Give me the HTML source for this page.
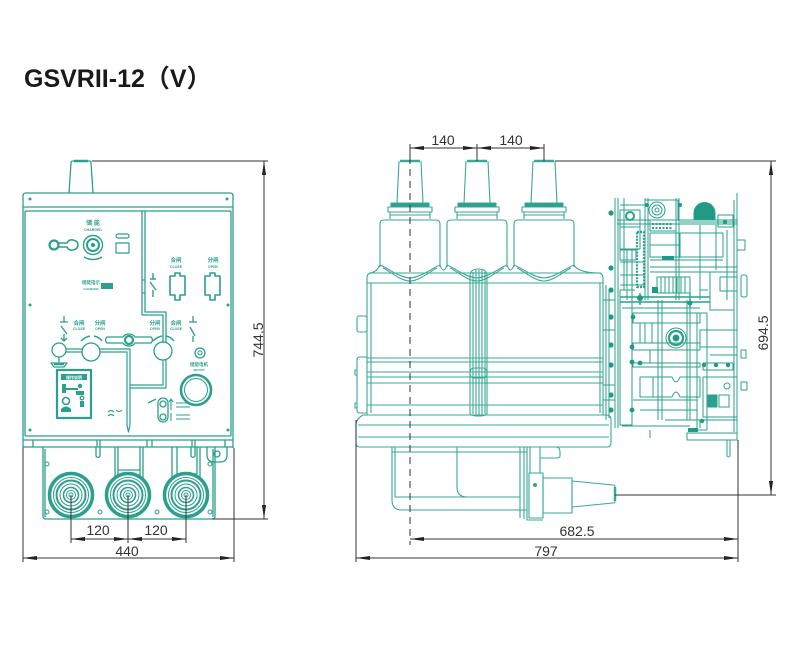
<!DOCTYPE html>
<html><head><meta charset="utf-8"><style>
html,body{margin:0;padding:0;background:#fff;}
svg{display:block;}
</style></head><body>
<svg width="800" height="650" viewBox="0 0 800 650" xmlns="http://www.w3.org/2000/svg" font-family="'Liberation Sans', 'Noto Sans CJK SC', sans-serif">
<rect width="800" height="650" fill="#fff"/>
<text x="24" y="87" font-size="25" font-weight="bold" fill="#1a1a1a" font-family="'Liberation Sans', 'Noto Sans CJK SC', sans-serif">GSVRII-12（V）</text>

<defs>
<g id="bsh">
<path d="M-11,161 L-13,203 M11,161 L13,203"/>
<line x1="-10" y1="161" x2="10" y2="161" stroke-width="2.5"/>
<rect x="-19" y="203" width="38" height="4" fill="#2ba08c"/>
<rect x="-22" y="207" width="44" height="5"/>
<rect x="-20" y="212" width="40" height="3"/>
<path d="M-20,215 L-20,219 M20,215 L20,219 M-14,203 L14,203"/>
<path d="M-30,267 L-30,224 Q-30,220 -26,220 L26,220 Q30,220 30,224 L30,267"/>
<path d="M-30,265 C-22,268 -12,277 0,278 C12,277 22,268 30,265"/>
<path d="M-27,268 C-20,271 -10,281 0,281 C10,281 20,271 27,268"/>
</g>
</defs>

<!-- ============ FRONT VIEW ============ -->
<g fill="none" stroke="#2ba08c" stroke-width="1.3" stroke-linejoin="round">
<path d="M69,193 L71,163 Q71,161 73,161 L89,161 Q91,161 91,163 L93,193"/>
<line x1="74" y1="161" x2="88" y2="161" stroke-width="2.5"/>
<path d="M23,448 L23,196 Q23,193 26,193 L230,193 Q233,193 233,196 L233,448"/>
<line x1="23" y1="207" x2="233" y2="207"/>
<line x1="25" y1="211" x2="231" y2="211"/>
<line x1="25" y1="211" x2="25" y2="436"/>
<line x1="231" y1="211" x2="231" y2="436"/>
<line x1="25" y1="436" x2="231" y2="436"/>
<line x1="23" y1="440" x2="233" y2="440"/>
<line x1="23" y1="447" x2="233" y2="447"/>
<path d="M33,440 V447 M97,440 V447 M100,440 V447 M147,440 V447 M152,440 V447 M192,440 V447 M195,440 V447 M225,440 V447"/>
<path d="M142,211 L142,315 L163,315 L163,343"/>
<path d="M145,211 L145,312 L166,312 L166,343"/>
<path d="M142,280 h3 M142,293 h3"/>
<g fill="#2ba08c" stroke="none">
<circle cx="30" cy="199" r="1.5"/><circle cx="227" cy="199" r="1.5"/>
<circle cx="30" cy="305" r="1.5"/><circle cx="228" cy="305" r="1.5"/>
<circle cx="30" cy="430" r="1.5"/><circle cx="228" cy="430" r="1.5"/>
</g>
<circle cx="54" cy="245" r="4.5" stroke-width="2.2"/>
<path d="M58.5,243 L67,243 Q69,239 73,240 Q78,241 78,245 Q78,249 73,250 Q69,251 67,247 L58.5,247" stroke-width="1.6"/>
<circle cx="93" cy="245" r="9.5" stroke-width="1.4"/>
<circle cx="93" cy="245" r="6" stroke-width="2"/>
<circle cx="93" cy="245" r="1.5" fill="#2ba08c"/>
<path d="M84,257 Q93,262 102,257" stroke-width="1.5"/>
<rect x="116" y="234" width="13" height="4" rx="2" stroke-width="1.2"/>
<rect x="116" y="243" width="13" height="10" stroke-width="1.2"/>
<rect x="101" y="283" width="12" height="6" fill="#2ba08c" stroke="none"/>
<path d="M153,273 V279 M150,279 h6 M150,282 L156,290 M153,290 V297" stroke-width="1.4"/>
<path d="M170,276 H175 V273 H180 V276 H185 V295 H180 V300 H175 V295 H170 Z" stroke-width="1.6"/>
<path d="M205,276 H210 V273 H215 V276 H220 V295 H215 V300 H210 V295 H205 Z" stroke-width="1.6"/>
<path d="M64,316 V322 M60,322 H68 M61,326 L67,334 M64,334 V340 M61,338 L64,341 L67,338" stroke-width="1.3"/>
<path d="M193,316 V322 M189,322 H197 M190,327 L195,336 M193,336 V342" stroke-width="1.3"/>
<circle cx="59" cy="350" r="7"/>
<path d="M59,357 V362 M51,363 H67 L64,367 H54 Z" stroke-width="1.3"/>
<path d="M54,364 h10" stroke-width="2.5"/>
<circle cx="91" cy="352" r="9"/>
<path d="M81,341 Q85,337 90,336 M94,336 Q99,337 102,341" stroke-width="1.5"/>
<path d="M153,341 Q157,337 162,336 M166,336 Q171,337 174,341" stroke-width="1.5"/>
<path d="M107,337 Q104,340 107,343 L123,343 Q125,346 129,346 Q133,346 135,343 L151,343 Q154,340 151,337 L135,337 Q133,334 129,334 Q125,334 123,337 Z" stroke-width="1.3"/>
<circle cx="129" cy="340" r="4" stroke-width="2.2"/>
<circle cx="163" cy="351" r="9"/>
<circle cx="200" cy="353" r="5"/>
<path d="M66,349 H82 M66,352 H82 M100,349 H130 V425 M100,352 H127 V425 M127,425 L128.5,432 L130,425" stroke-width="1.2"/>
<path d="M163,360 V385 H130 M166,360 V388 H130" stroke-width="1.2"/>
<rect x="57" y="370" width="34" height="48" stroke-width="2.2"/>
<rect x="61" y="374" width="26" height="6" fill="#2ba08c" stroke="none"/>
<g fill="#2ba08c" stroke="none">
<rect x="62" y="384" width="4" height="9"/>
<rect x="66" y="388" width="12" height="2"/>
<circle cx="80" cy="386" r="2.2"/>
<rect x="76" y="391" width="8" height="4"/>
<rect x="80" y="401" width="4" height="6"/>
<path d="M61,412 h10 v-3 q-5,-5 -10,0z"/>
</g>
<circle cx="66" cy="401" r="3.5" stroke-width="1.6"/>
<circle cx="82" cy="398" r="1.8"/>
<circle cx="196" cy="390" r="15" stroke-width="2.6"/>
<circle cx="196" cy="390" r="11.5" stroke-width="1"/>
<circle cx="200" cy="353" r="2" stroke-width="1"/>
<rect x="158" y="398" width="10" height="24" rx="5" stroke-width="1.3"/>
<circle cx="163" cy="404" r="3"/>
<circle cx="163" cy="417" r="3"/>
<path d="M171,410 V400 M169,402 L171,399 L173,402 M171,421 V413 M176,403 h14 M176,407 h14 M176,415 h14 M176,419 h14" stroke-width="1.1"/>
<path d="M148,403 L156,399" stroke-width="1.3"/>
<path d="M108,412 q3,-3 6,0 M116,410 q3,3 6,0 M108,416 q3,-3 6,0" stroke-width="1.2"/>
<path d="M43,447 L43,516 Q43,519 46,519 L212,519 Q215,519 215,516 L215,447"/>
<path d="M45,449 V517 M213,449 V517"/>
<path d="M207,447 L207,455 Q207,462 215,462 L220,462 Q227,462 227,455 L227,447"/>
<circle cx="217" cy="454" r="3"/>
<path d="M115,447 V479 M118,447 V476 M140,447 V476 M143,447 V479 M118,470 H140"/>
<path d="M172,447 V479 M177,447 V474 M197,447 V474 M200,447 V479 M177,474 H197"/>
<path d="M96,447 V456 Q98,459 100,456 V447 M191,447 V456 Q193,459 195,456 V447"/>
<g stroke-width="1">
<circle cx="47" cy="464" r="2"/><circle cx="210" cy="464" r="2"/>
<circle cx="47" cy="512" r="2"/><circle cx="100" cy="512" r="2"/>
<circle cx="157" cy="512" r="2"/><circle cx="210" cy="512" r="2"/>
</g>
<g id="rb">
<circle cx="71" cy="495" r="21.5" stroke-width="3.5"/>
<circle cx="71" cy="495" r="17.5" stroke-width="1"/>
<circle cx="71" cy="495" r="14.5" stroke-width="2"/>
<circle cx="71" cy="495" r="11" stroke-width="1"/>
<circle cx="71" cy="495" r="7.5" stroke-width="1.6"/>
<circle cx="71" cy="495" r="4.5" stroke-width="1"/>
<circle cx="71" cy="495" r="2" stroke-width="1"/>
</g>
<use href="#rb" x="57"/>
<use href="#rb" x="115"/>
</g>

<g fill="#2ba08c" font-family="'Liberation Sans','Noto Sans CJK SC',sans-serif" text-anchor="middle" font-weight="bold">
<text x="93" y="225" font-size="6">储 能</text>
<text x="93" y="231" font-size="3.5">CHARGED</text>
<text x="91" y="284" font-size="4.5">储能指示</text>
<text x="91" y="290" font-size="3">CHARGED</text>
<text x="176" y="262" font-size="5.5">合闸</text>
<text x="176" y="268" font-size="3.5">CLOSE</text>
<text x="213" y="262" font-size="5.5">分闸</text>
<text x="213" y="268" font-size="3.5">OPEN</text>
<text x="79" y="325" font-size="5.5">合闸</text>
<text x="79" y="330" font-size="3.5">CLOSE</text>
<text x="100" y="325" font-size="5.5">分闸</text>
<text x="100" y="330" font-size="3.5">OPEN</text>
<text x="155" y="325" font-size="5.5">分闸</text>
<text x="155" y="330" font-size="3.5">OPEN</text>
<text x="176" y="325" font-size="5.5">合闸</text>
<text x="176" y="330" font-size="3.5">CLOSE</text>
<text x="199" y="366" font-size="4.5">储能电机</text>
<text x="199" y="371" font-size="3">MOTOR</text>
<text x="74" y="379" font-size="4" fill="#fff">操作说明</text>
</g>

<!-- ============ SIDE VIEW ============ -->
<g fill="none" stroke="#3aa996" stroke-width="1.1" stroke-linejoin="round">
<use href="#bsh" x="410"/>
<use href="#bsh" x="477"/>
<use href="#bsh" x="544"/>
<path d="M440,265 Q443.5,275 447,265 M507,265 Q510.5,275 514,265"/>
<path d="M380,265 Q376,273 369,273 M574,265 Q578,273 601,273"/>
<path d="M367,415 L367,278 Q367,273 372,273 L598,273 Q603,273 603,278 L603,415"/>
<path d="M371,283 V413 M600,283 V413"/>
<line x1="367" y1="283" x2="603" y2="283"/>
<path d="M367,358 H603 M367,362 H603 M367,372 H603 M367,377 H603 M367,383 H603 M367,405 H603"/>
<path d="M470,413 V276 Q470,269 478.5,269 Q487,269 487,276 V413 Q487,416 478.5,416 Q470,416 470,413"/>
<path d="M473,272 V414 M476,270 V415 M479,270 V415 M482,270 V415 M485,272 V414"/>
<rect x="470" y="368" width="17" height="10" rx="4"/>
<rect x="357" y="316" width="10" height="16" rx="2"/>
<path d="M367,357 H360 Q357,357 357,360 V410 Q357,413 360,413 H367"/>
<path d="M357,370 h-2 v5 h2 M357,403 h-2 v5 h2"/>
<path d="M363,415 H606 Q611,415 611,420 V443 Q611,447 607,447 H360 Q356,447 356,443 V425 Q356,419 363,415 Z"/>
<path d="M358,425 H609 M358,437 H609"/>
<path d="M392,447 L392,500 Q392,510 402,510 L527,510"/>
<path d="M395,447 V497 H520"/>
<path d="M457,447 V487 Q457,497 467,497"/>
<path d="M392,452 H527"/>
<path d="M520,447 V518 M524,447 V519 M527,447 V520 H543 M530,447 V473 M540,447 V473"/>
<path d="M540,447 H556 Q560,447 560,452 V456 Q560,458 556,458 H540"/>
<rect x="529" y="473" width="14" height="45"/>
<circle cx="535" cy="485" r="1.5" fill="#2ba08c"/>
<rect x="543" y="478" width="29" height="35"/>
<path d="M572,481 L613,485 Q615,485 615,487 V501 Q615,503 613,503 L572,507 Z"/>
<line x1="615" y1="487" x2="615" y2="501" stroke-width="2.5"/>
</g>

<!-- mechanism -->
<g fill="none" stroke="#2ba08c" stroke-width="1" stroke-linejoin="round">
<path d="M615,198 V428 M618,198 V428 M606,285 V420 M609,290 V418 M624,198 V290"/>
<path d="M645,198 V300 M648,198 V300 M676,198 V300 M679,198 V300 M700,225 V300 M716,225 V270"/>
<path d="M737,193 V440 M734,200 V432 M727,230 V300"/>
<rect x="645" y="200" width="33" height="20"/>
<circle cx="657" cy="210" r="8"/><circle cx="657" cy="210" r="5"/><circle cx="657" cy="210" r="2"/>
<path d="M694,220 L694,213 A10.5,10.5 0 0 1 715,213 L715,220 Z" fill="#1f9a84"/>
<rect x="650" y="220" width="26" height="11"/>
<path d="M652,224 h20 M652,228 h20" stroke-width="2" stroke-dasharray="2 1.5"/>
<path d="M617,220 H737 M617,224 H737 M620,205 H645 M680,222 H737"/>
<rect x="650" y="233" width="73" height="24"/>
<path d="M680,233 V257 M650,245 H680"/>
<rect x="718" y="215" width="15" height="12"/>
<rect x="737" y="240" width="8" height="10"/>
<rect x="620" y="210" width="20" height="17"/>
<circle cx="630" cy="216" r="4" stroke-width="2"/>
<rect x="620" y="227" width="20" height="22"/>
<rect x="620" y="250" width="16" height="10"/>
<path d="M627,249 V300 M632,249 V300"/>
<rect x="637" y="232" width="7" height="55" stroke-width="2.2" stroke-dasharray="2 1.2"/>
<path d="M650,267 H737 M650,272 H737 M620,262 H645 M620,275 H645 M620,285 H645 M650,260 H723"/>
<rect x="710" y="272" width="24" height="38"/>
<rect x="720" y="277" width="17" height="14"/>
<rect x="741" y="275" width="6" height="22" rx="2"/>
<rect x="657" y="277" width="33" height="16"/>
<path d="M661,277 V293 M665,277 V293 M669,277 V293 M673,277 V293 M677,277 V293 M681,277 V293 M685,277 V293"/>
<path d="M620,297 H710 M620,302 H710 M640,293 v12 M690,293 v14" stroke-width="1.4"/>
<path d="M622,308 H700 M625,290 h10 M700,290 h8" stroke-width="1"/>
<rect x="633" y="313" width="67" height="10"/>
<circle cx="676" cy="338" r="10"/>
<circle cx="676" cy="338" r="7" stroke-width="2.2"/>
<circle cx="676" cy="338" r="3" fill="#1f9a84"/>
<rect x="633" y="343" width="67" height="7"/>
<rect x="633" y="363" width="67" height="4"/>
<path d="M658,300 V420 M662,300 V420 M687,300 V420 M690,300 V420 M640,323 V343 M645,323 V343 M650,350 V363 M652,323 V343"/>
<rect x="640" y="377" width="13" height="20"/>
<path d="M653,377 H672 Q676,387 680,377 H700 V397 H680 Q676,387 672,397 H653 Z"/>
<rect x="697" y="313" width="10" height="117"/>
<rect x="700" y="330" width="37" height="17"/>
<rect x="703" y="363" width="30" height="7"/>
<rect x="703" y="377" width="34" height="40"/>
<circle cx="727" cy="386" r="3"/>
<rect x="708" y="395" width="9" height="12" fill="#2ba08c"/>
<rect x="719" y="395" width="10" height="12"/>
<rect x="741" y="382" width="6" height="8"/>
<rect x="741" y="350" width="5" height="8"/>
<rect x="687" y="433" width="50" height="7"/>
<path d="M727,440 V456 Q728.5,458 730,456 V440"/>
<path d="M665,420 H737 M640,410 H697 M622,426 H690 M650,430 V438 M700,420 V428 M633,400 H697 M710,355 H737"/>
<rect x="620" y="290" width="12" height="135"/>
<path d="M603,300 H615 M603,330 H615 M603,385 H615 M603,400 H615"/>
<g fill="#1f9a84" stroke="none">
<circle cx="611" cy="213" r="2.6"/><circle cx="611" cy="268" r="2.6"/>
<circle cx="611" cy="290" r="2.6"/><circle cx="611" cy="317" r="2.6"/>
<circle cx="611" cy="345" r="2.6"/><circle cx="611" cy="365" r="2.6"/>
<circle cx="611" cy="395" r="2.6"/><circle cx="611" cy="410" r="2.6"/>
<circle cx="633" cy="317" r="2.4"/><circle cx="632" cy="347" r="2.4"/>
<circle cx="632" cy="362" r="2.4"/><circle cx="640" cy="363" r="2.4"/>
<circle cx="632" cy="410" r="2.4"/><circle cx="647" cy="205" r="2"/>
<circle cx="680" cy="205" r="2"/><circle cx="725" cy="222" r="2"/>
<circle cx="640" cy="298" r="3"/><circle cx="690" cy="303" r="2.5"/>
<circle cx="704" cy="365" r="2.2"/><circle cx="716" cy="365" r="2.2"/>
<circle cx="728" cy="365" r="2.2"/><circle cx="702" cy="421" r="2.2"/>
<rect x="662" y="256" width="12" height="4"/>
<rect x="688" y="428" width="10" height="4"/>
<rect x="652" y="287" width="6" height="6"/>
</g>
</g>

<!-- ============ DIMENSIONS ============ -->
<g stroke="#333" stroke-width="1" fill="none">
<path d="M92,161 H268 M264,161 V519 M212,519 H268"/>
<path d="M71,495 V543 M128,495 V543 M186,495 V543 M71,539 H186"/>
<path d="M23,448 V562 M234,448 V562 M23,558 H234"/>
<path d="M410,144 V161 M477,144 V161 M544,144 V161 M410,148 H544"/>
<path d="M555,161 H776 M771,161 V495 M615,495 H776"/>
<path d="M738,440 V562 M356,420 V562 M410,539 H738 M356,558 H738"/>
<line x1="410" y1="157" x2="410" y2="545" stroke-dasharray="7 5"/>
</g>
<g fill="#222">
<polygon points="264,161 262,175 266,175"/>
<polygon points="264,519 262,505 266,505"/>
<polygon points="71,539 85,537 85,541"/>
<polygon points="128,539 114,537 114,541"/>
<polygon points="128,539 142,537 142,541"/>
<polygon points="186,539 172,537 172,541"/>
<polygon points="23,558 37,556 37,560"/>
<polygon points="234,558 220,556 220,560"/>
<polygon points="410,148 424,146 424,150"/>
<polygon points="477,148 463,146 463,150"/>
<polygon points="477,148 491,146 491,150"/>
<polygon points="544,148 530,146 530,150"/>
<polygon points="771,161 769,175 773,175"/>
<polygon points="771,495 769,481 773,481"/>
<polygon points="410,539 424,537 424,541"/>
<polygon points="738,539 724,537 724,541"/>
<polygon points="356,558 370,556 370,560"/>
<polygon points="738,558 724,556 724,560"/>
</g>
<g fill="#333" font-size="14" font-family="'Liberation Sans', sans-serif" text-anchor="middle">
<text x="98" y="535">120</text>
<text x="156" y="535">120</text>
<text x="127" y="556">440</text>
<text x="443" y="145">140</text>
<text x="511" y="145">140</text>
<text x="577" y="536">682.5</text>
<text x="546" y="556">797</text>
<text transform="translate(263,340) rotate(-90)">744.5</text>
<text transform="translate(768,333) rotate(-90)">694.5</text>
</g>
</svg>
</body></html>
